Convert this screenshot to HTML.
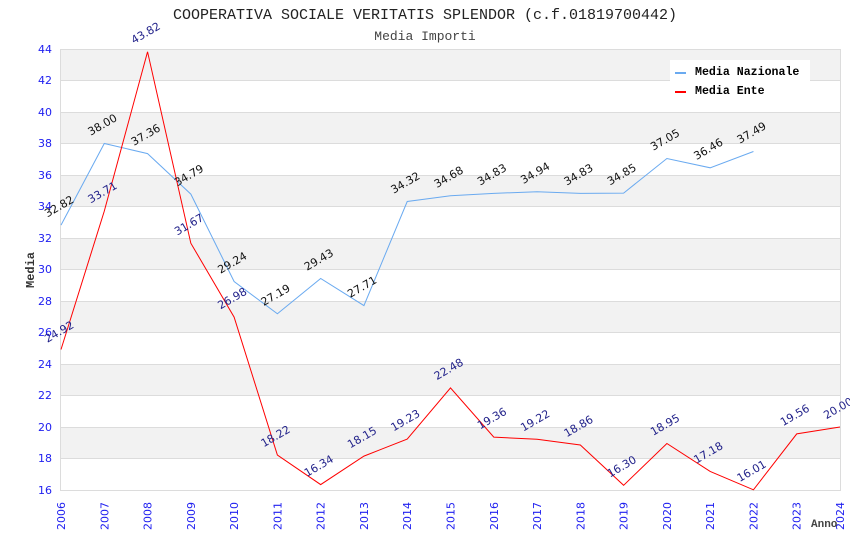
<!DOCTYPE html>
<html><head><meta charset="utf-8"><style>
html,body{margin:0;padding:0;background:#fff;}
svg{display:block;}
.tk{font-family:"DejaVu Sans","Liberation Sans",sans-serif;font-size:11px;fill:#2020f0;}
.ln{font-family:"DejaVu Sans","Liberation Sans",sans-serif;font-size:11px;}
.mono{font-family:"Liberation Mono","DejaVu Sans Mono",monospace;}
</style></head><body>
<svg width="850" height="550" viewBox="0 0 850 550" xmlns="http://www.w3.org/2000/svg">
<rect width="850" height="550" fill="#fff"/>
<text x="425" y="19" text-anchor="middle" class="mono" font-size="15" fill="#222">COOPERATIVA SOCIALE VERITATIS SPLENDOR (c.f.01819700442)</text>
<text x="425" y="40" text-anchor="middle" class="mono" font-size="13" fill="#444">Media Importi</text>

<!-- bands -->
<g fill="#f2f2f2">
<rect x="61" y="49" width="779" height="31.5"/>
<rect x="61" y="112" width="779" height="31.5"/>
<rect x="61" y="175" width="779" height="31.5"/>
<rect x="61" y="238" width="779" height="31.5"/>
<rect x="61" y="301" width="779" height="31.5"/>
<rect x="61" y="364" width="779" height="31.5"/>
<rect x="61" y="427" width="779" height="31.5"/>
</g>
<g stroke="#dcdcdc" stroke-width="1">
<line x1="61" y1="49.5" x2="840" y2="49.5"/>
<line x1="61" y1="80.5" x2="840" y2="80.5"/>
<line x1="61" y1="112.5" x2="840" y2="112.5"/>
<line x1="61" y1="143.5" x2="840" y2="143.5"/>
<line x1="61" y1="175.5" x2="840" y2="175.5"/>
<line x1="61" y1="206.5" x2="840" y2="206.5"/>
<line x1="61" y1="238.5" x2="840" y2="238.5"/>
<line x1="61" y1="269.5" x2="840" y2="269.5"/>
<line x1="61" y1="301.5" x2="840" y2="301.5"/>
<line x1="61" y1="332.5" x2="840" y2="332.5"/>
<line x1="61" y1="364.5" x2="840" y2="364.5"/>
<line x1="61" y1="395.5" x2="840" y2="395.5"/>
<line x1="61" y1="427.5" x2="840" y2="427.5"/>
<line x1="61" y1="458.5" x2="840" y2="458.5"/>
<line x1="61" y1="490.5" x2="840" y2="490.5"/>
<line x1="60.5" y1="49" x2="60.5" y2="491"/>
<line x1="840.5" y1="49" x2="840.5" y2="491"/>
</g>

<!-- y ticks -->
<g class="tk" text-anchor="end">
<text x="52" y="53">44</text>
<text x="52" y="84">42</text>
<text x="52" y="116">40</text>
<text x="52" y="147">38</text>
<text x="52" y="179">36</text>
<text x="52" y="210">34</text>
<text x="52" y="242">32</text>
<text x="52" y="273">30</text>
<text x="52" y="305">28</text>
<text x="52" y="336">26</text>
<text x="52" y="368">24</text>
<text x="52" y="399">22</text>
<text x="52" y="431">20</text>
<text x="52" y="462">18</text>
<text x="52" y="494">16</text>
</g>

<!-- x ticks -->
<g class="tk" text-anchor="end">
<text transform="translate(65,502) rotate(-90)">2006</text>
<text transform="translate(108.28,502) rotate(-90)">2007</text>
<text transform="translate(151.56,502) rotate(-90)">2008</text>
<text transform="translate(194.83,502) rotate(-90)">2009</text>
<text transform="translate(238.11,502) rotate(-90)">2010</text>
<text transform="translate(281.39,502) rotate(-90)">2011</text>
<text transform="translate(324.67,502) rotate(-90)">2012</text>
<text transform="translate(367.94,502) rotate(-90)">2013</text>
<text transform="translate(411.22,502) rotate(-90)">2014</text>
<text transform="translate(454.5,502) rotate(-90)">2015</text>
<text transform="translate(497.78,502) rotate(-90)">2016</text>
<text transform="translate(541.06,502) rotate(-90)">2017</text>
<text transform="translate(584.33,502) rotate(-90)">2018</text>
<text transform="translate(627.61,502) rotate(-90)">2019</text>
<text transform="translate(670.89,502) rotate(-90)">2020</text>
<text transform="translate(714.17,502) rotate(-90)">2021</text>
<text transform="translate(757.44,502) rotate(-90)">2022</text>
<text transform="translate(800.72,502) rotate(-90)">2023</text>
<text transform="translate(844,502) rotate(-90)">2024</text>
</g>

<text transform="translate(34,270) rotate(-90)" text-anchor="middle" class="mono" font-size="12" font-weight="bold" fill="#333">Media</text>
<text x="811" y="527" class="mono" font-size="11" font-weight="bold" fill="#444">Anno</text>

<!-- series -->
<polyline fill="none" stroke="#6aaaf0" stroke-width="1" points="61,225.1 104.28,143.5 147.56,153.6 190.83,194.1 234.11,281.5 277.39,313.8 320.67,278.5 363.94,305.6 407.22,201.5 450.5,195.8 493.78,193.4 537.06,191.7 580.33,193.4 623.61,193.1 666.89,158.5 710.17,167.8 753.44,151.5"/>
<polyline fill="none" stroke="#ff0000" stroke-width="1" points="61,349.5 104.28,211.1 147.56,51.8 190.83,243.2 234.11,317.1 277.39,455 320.67,484.6 363.94,456.1 407.22,439.1 450.5,387.9 493.78,437.1 537.06,439.3 580.33,445 623.61,485.3 666.89,443.5 710.17,471.4 753.44,489.8 796.72,433.9 840,427"/>

<!-- labels nazionale -->
<g class="ln" fill="#111" text-anchor="middle">
<text transform="translate(61,209.6) rotate(-30)">32.82</text>
<text transform="translate(104.28,128) rotate(-30)">38.00</text>
<text transform="translate(147.56,138.1) rotate(-30)">37.36</text>
<text transform="translate(190.83,178.6) rotate(-30)">34.79</text>
<text transform="translate(234.11,266) rotate(-30)">29.24</text>
<text transform="translate(277.39,298.3) rotate(-30)">27.19</text>
<text transform="translate(320.67,263) rotate(-30)">29.43</text>
<text transform="translate(363.94,290.1) rotate(-30)">27.71</text>
<text transform="translate(407.22,186) rotate(-30)">34.32</text>
<text transform="translate(450.5,180.3) rotate(-30)">34.68</text>
<text transform="translate(493.78,177.9) rotate(-30)">34.83</text>
<text transform="translate(537.06,176.2) rotate(-30)">34.94</text>
<text transform="translate(580.33,177.9) rotate(-30)">34.83</text>
<text transform="translate(623.61,177.6) rotate(-30)">34.85</text>
<text transform="translate(666.89,143) rotate(-30)">37.05</text>
<text transform="translate(710.17,152.3) rotate(-30)">36.46</text>
<text transform="translate(753.44,136) rotate(-30)">37.49</text>
</g>
<!-- labels ente -->
<g class="ln" fill="#22228a" text-anchor="middle">
<text transform="translate(61,335) rotate(-30)">24.92</text>
<text transform="translate(104.28,195.6) rotate(-30)">33.71</text>
<text transform="translate(147.56,36.3) rotate(-30)">43.82</text>
<text transform="translate(190.83,227.7) rotate(-30)">31.67</text>
<text transform="translate(234.11,301.6) rotate(-30)">26.98</text>
<text transform="translate(277.39,439.5) rotate(-30)">18.22</text>
<text transform="translate(320.67,469.1) rotate(-30)">16.34</text>
<text transform="translate(363.94,440.6) rotate(-30)">18.15</text>
<text transform="translate(407.22,423.6) rotate(-30)">19.23</text>
<text transform="translate(450.5,372.4) rotate(-30)">22.48</text>
<text transform="translate(493.78,421.6) rotate(-30)">19.36</text>
<text transform="translate(537.06,423.8) rotate(-30)">19.22</text>
<text transform="translate(580.33,429.5) rotate(-30)">18.86</text>
<text transform="translate(623.61,469.8) rotate(-30)">16.30</text>
<text transform="translate(666.89,428) rotate(-30)">18.95</text>
<text transform="translate(710.17,455.9) rotate(-30)">17.18</text>
<text transform="translate(753.44,474.3) rotate(-30)">16.01</text>
<text transform="translate(796.72,418.4) rotate(-30)">19.56</text>
<text transform="translate(840,411.5) rotate(-30)">20.00</text>
</g>

<!-- legend -->
<rect x="670" y="60" width="140" height="40" fill="#fff"/>
<rect x="675" y="72" width="11" height="2" fill="#6aaaf0"/>
<rect x="675" y="91" width="11" height="2" fill="#ff0000"/>
<text x="695" y="75" class="mono" font-size="11.6" font-weight="bold" fill="#000">Media Nazionale</text>
<text x="695" y="94" class="mono" font-size="11.6" font-weight="bold" fill="#000">Media Ente</text>
</svg>
</body></html>
